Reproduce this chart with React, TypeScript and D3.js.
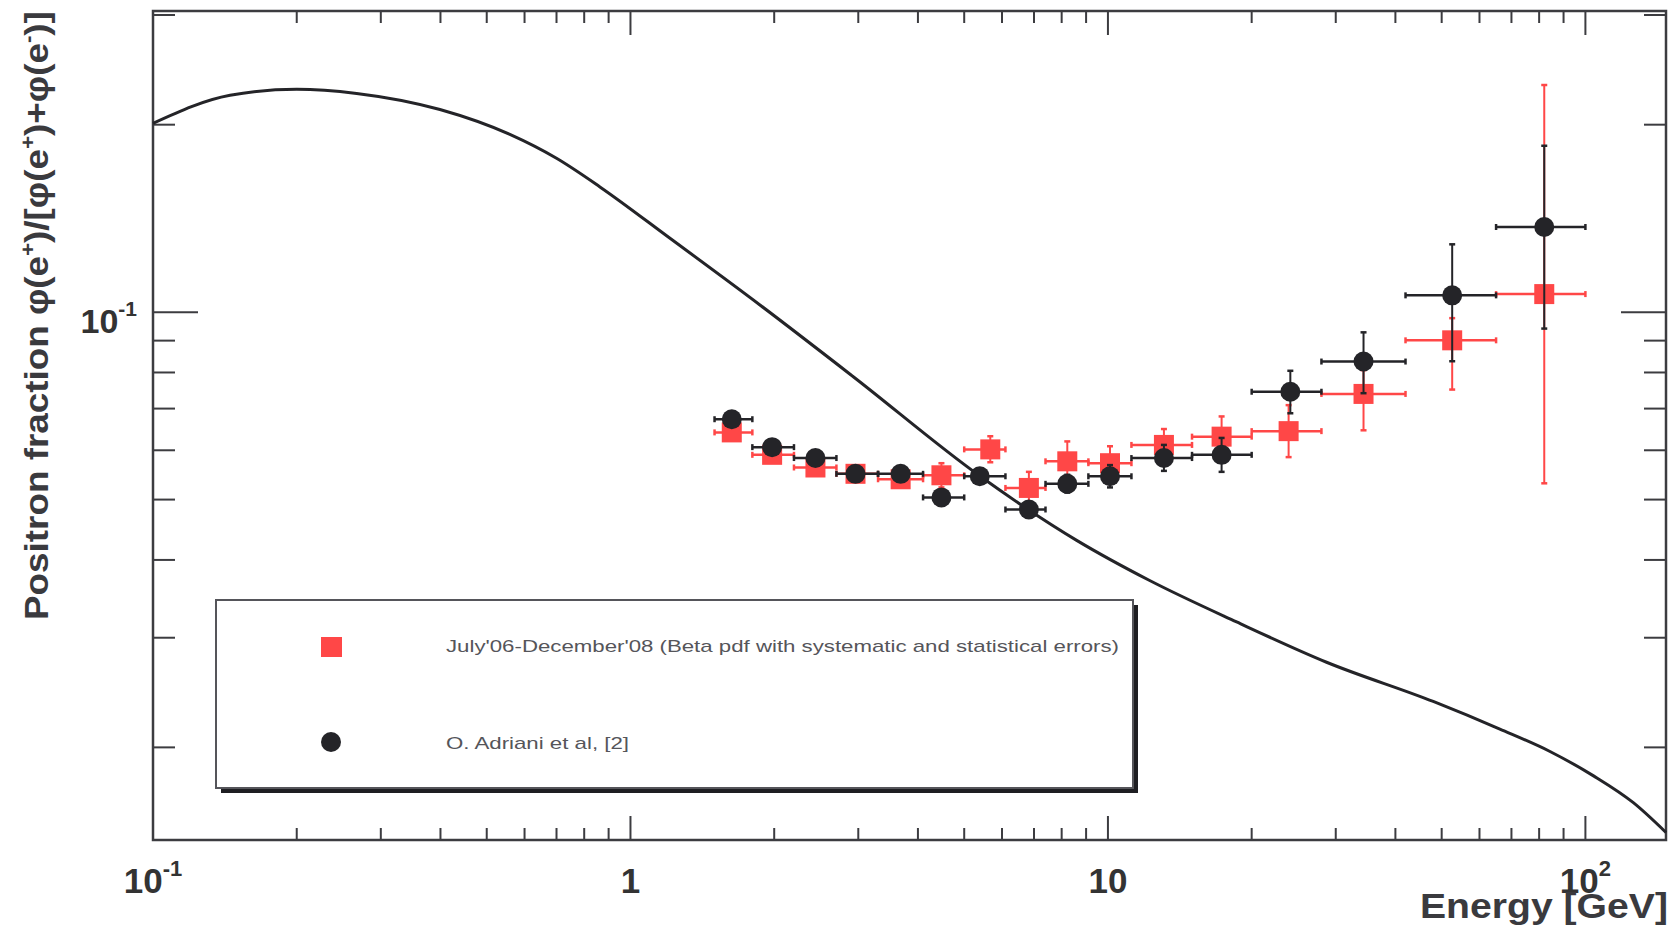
import React, { useEffect, useRef } from 'react';
import * as d3 from 'd3';

// energy bins [GeV], shared by both data sets
const binLow = [1.5, 1.8, 2.2, 2.7, 3.3, 4.1, 5.0, 6.1, 7.4, 9.1, 11.2, 15, 20, 28, 42, 65];
const binHigh = [1.8, 2.2, 2.7, 3.3, 4.1, 5.0, 6.1, 7.4, 9.1, 11.2, 15, 20, 28, 42, 65, 100];

// July'06-December'08 (red squares)
const energyRed = [1.63, 1.98, 2.44, 2.96, 3.68, 4.48, 5.67, 6.83, 8.22, 10.1, 13.1, 17.3, 23.9, 34.3, 52.6, 82.0];
const fracRed = [0.0641, 0.059, 0.0563, 0.055, 0.0539, 0.0547, 0.0602, 0.0522, 0.0576, 0.0572, 0.0612, 0.0631, 0.0644, 0.0739, 0.0901, 0.1069];
const lowRed = [0.0629, 0.0579, 0.0553, 0.054, 0.0529, 0.0523, 0.0574, 0.0492, 0.0535, 0.0537, 0.0577, 0.0586, 0.0585, 0.0646, 0.0751, 0.0531];
const highRed = [0.0653, 0.0601, 0.0574, 0.056, 0.0549, 0.0572, 0.0632, 0.0554, 0.062, 0.0609, 0.0649, 0.068, 0.0709, 0.0807, 0.0978, 0.2316];

// O. Adriani et al (black circles)
const energyBlack = [1.63, 1.98, 2.44, 2.96, 3.68, 4.48, 5.39, 6.83, 8.22, 10.1, 13.1, 17.3, 24.1, 34.3, 52.6, 82.0];
const fracBlack = [0.0673, 0.0607, 0.0583, 0.055, 0.055, 0.0504, 0.0545, 0.0482, 0.053, 0.0545, 0.0583, 0.059, 0.0745, 0.0833, 0.1064, 0.137];
const lowBlack = [0.0661, 0.0596, 0.0572, 0.054, 0.054, 0.0493, 0.0533, 0.047, 0.0513, 0.0523, 0.0556, 0.0554, 0.0688, 0.0741, 0.0834, 0.0941];
const highBlack = [0.0686, 0.0618, 0.0594, 0.056, 0.056, 0.0515, 0.0557, 0.0495, 0.0548, 0.0568, 0.0612, 0.0628, 0.0805, 0.0928, 0.1285, 0.185];

// secondary production curve
const curveEnergy = [0.1, 0.145, 0.2, 0.267, 0.399, 0.559, 0.7, 0.863, 1.21, 1.87, 2.92, 5.4, 8.6, 12.2, 18.6, 28.7, 48.0, 66.2, 84.3, 104, 126, 147.5];
const curveFrac = [0.201, 0.223, 0.228, 0.2245, 0.2115, 0.1929, 0.1766, 0.1589, 0.1314, 0.1026, 0.0789, 0.0545, 0.043, 0.0371, 0.0318, 0.0274, 0.0237, 0.0214, 0.0197, 0.018, 0.0163, 0.0146];

const legendLabels = ["July'06-December'08 (Beta pdf with systematic and statistical errors)", 'O. Adriani et al, [2]'];

const RED = '#ff4747';
const DARK = '#242428';
const AXIS = '#3c3c40';

const PositronChart = () => {
  const ref = useRef<SVGSVGElement>(null);

  useEffect(() => {
    if (!ref.current) return;
    const svg = d3.select(ref.current);
    svg.selectAll('*').remove();

    const x = d3.scaleLog().domain([0.1, 147.5]).range([153, 1666]);
    const y = d3.scaleLog().domain([0.0142, 0.3045]).range([840, 11]);
    const [x0, x1] = x.range();
    const [y0, y1] = y.range();

    // frame
    svg
      .append('rect')
      .attr('x', x0)
      .attr('y', y1)
      .attr('width', x1 - x0)
      .attr('height', y0 - y1)
      .attr('fill', 'none')
      .attr('stroke', AXIS)
      .attr('stroke-width', 2.5);

    const isMajor = (t: number) => Math.abs(Math.log10(t) - Math.round(Math.log10(t))) < 1e-6;

    const ticks = svg.append('g').attr('stroke', AXIS).attr('stroke-width', 2);
    x.ticks().forEach((t) => {
      const len = isMajor(t) ? 24 : 12;
      ticks.append('line').attr('x1', x(t)).attr('x2', x(t)).attr('y1', y0).attr('y2', y0 - len);
      ticks.append('line').attr('x1', x(t)).attr('x2', x(t)).attr('y1', y1).attr('y2', y1 + len);
    });
    y.ticks().forEach((t) => {
      const len = isMajor(t) ? 45 : 22;
      ticks.append('line').attr('x1', x0).attr('x2', x0 + len).attr('y1', y(t)).attr('y2', y(t));
      ticks.append('line').attr('x1', x1).attr('x2', x1 - len).attr('y1', y(t)).attr('y2', y(t));
    });

    // tick labels
    const font = "'Liberation Sans', Arial, Helvetica, sans-serif";
    const xLabels: [number, string, string][] = [
      [0.1, '10', '-1'],
      [1, '1', ''],
      [10, '10', ''],
      [100, '10', '2'],
    ];
    xLabels.forEach(([v, base, exp]) => {
      const t = svg
        .append('text')
        .attr('x', x(v))
        .attr('y', 893)
        .attr('text-anchor', 'middle')
        .attr('font-family', font)
        .attr('font-weight', 'bold')
        .attr('font-size', 35)
        .attr('fill', '#333');
      t.append('tspan').text(base);
      if (exp) t.append('tspan').attr('dy', -17).attr('font-size', 22).text(exp);
    });

    const yl = svg
      .append('text')
      .attr('x', 137)
      .attr('y', y(0.1) + 21)
      .attr('text-anchor', 'end')
      .attr('font-family', font)
      .attr('font-weight', 'bold')
      .attr('font-size', 34)
      .attr('fill', '#333');
    yl.append('tspan').text('10');
    yl.append('tspan').attr('dy', -17).attr('font-size', 21).text('-1');

    // axis titles
    svg
      .append('text')
      .attr('x', 1668)
      .attr('y', 918)
      .attr('text-anchor', 'end')
      .attr('font-family', font)
      .attr('font-weight', 'bold')
      .attr('font-size', 35)
      .attr('fill', '#3a3a3e')
      .attr('textLength', 248)
      .attr('lengthAdjust', 'spacingAndGlyphs')
      .text('Energy [GeV]');

    const yt = svg
      .append('text')
      .attr('font-family', font)
      .attr('font-weight', 'bold')
      .attr('font-size', 33)
      .attr('fill', '#3a3a3e');
    const parts: [string, number][] = [
      ['Positron fraction \u03c6(e', 0],
      ['+', -13],
      [')/[\u03c6(e', 13],
      ['+', -13],
      [')+\u03c6(e', 13],
      ['-', -13],
      [')]', 13],
    ];
    parts.forEach(([s, dy]) => {
      yt.append('tspan')
        .attr('dy', dy)
        .attr('font-size', dy < 0 ? 20 : 33)
        .text(s);
    });
    const titleLen = (yt.node() as SVGTextElement).getComputedTextLength() || 609;
    yt.attr('transform', `translate(48,620) rotate(-90) scale(${609 / titleLen},1)`);

    // curve
    const line = d3
      .line<number>()
      .x((d, i) => x(curveEnergy[i]))
      .y((d) => y(d))
      .curve(d3.curveMonotoneX);
    svg
      .append('path')
      .datum(curveFrac)
      .attr('fill', 'none')
      .attr('stroke', DARK)
      .attr('stroke-width', 3)
      .attr('d', line);

    // data points with error bars
    const drawSeries = (
      energy: number[],
      frac: number[],
      low: number[],
      high: number[],
      color: string,
      marker: 'square' | 'circle'
    ) => {
      const g = svg.append('g');
      const bars = g.append('g').attr('stroke', color).attr('stroke-width', 2.5);
      frac.forEach((v, i) => {
        const cx = x(energy[i]);
        const cy = y(v);
        const xa = x(binLow[i]);
        const xb = x(binHigh[i]);
        bars.append('line').attr('x1', xa).attr('x2', xb).attr('y1', cy).attr('y2', cy);
        bars.append('line').attr('x1', xa).attr('x2', xa).attr('y1', cy - 3).attr('y2', cy + 3);
        bars.append('line').attr('x1', xb).attr('x2', xb).attr('y1', cy - 3).attr('y2', cy + 3);
        const ya = y(low[i]);
        const yb = y(high[i]);
        bars.append('line').attr('x1', cx).attr('x2', cx).attr('y1', ya).attr('y2', yb).attr('stroke-width', 2);
        bars.append('line').attr('x1', cx - 3).attr('x2', cx + 3).attr('y1', ya).attr('y2', ya);
        bars.append('line').attr('x1', cx - 3).attr('x2', cx + 3).attr('y1', yb).attr('y2', yb);
      });
      frac.forEach((v, i) => {
        const cx = x(energy[i]);
        const cy = y(v);
        if (marker === 'square') {
          g.append('rect').attr('x', cx - 10).attr('y', cy - 10).attr('width', 20).attr('height', 20).attr('fill', color);
        } else {
          g.append('circle').attr('cx', cx).attr('cy', cy).attr('r', 10).attr('fill', color);
        }
      });
    };
    drawSeries(energyRed, fracRed, lowRed, highRed, RED, 'square');
    drawSeries(energyBlack, fracBlack, lowBlack, highBlack, DARK, 'circle');

    // legend
    const lg = svg.append('g');
    lg.append('rect').attr('x', 221).attr('y', 605).attr('width', 917).attr('height', 188).attr('fill', '#1e1e22');
    lg.append('rect')
      .attr('x', 216)
      .attr('y', 600)
      .attr('width', 917)
      .attr('height', 188)
      .attr('fill', '#fff')
      .attr('stroke', '#55555a')
      .attr('stroke-width', 2);
    lg.append('rect').attr('x', 321).attr('y', 637).attr('width', 21).attr('height', 20).attr('fill', RED);
    lg.append('circle').attr('cx', 331).attr('cy', 742).attr('r', 10).attr('fill', DARK);
    lg.append('text')
      .attr('x', 446)
      .attr('y', 652)
      .attr('font-family', font)
      .attr('font-size', 17)
      .attr('fill', '#55555a')
      .attr('textLength', 673)
      .attr('lengthAdjust', 'spacingAndGlyphs')
      .text(legendLabels[0]);
    lg.append('text')
      .attr('x', 446)
      .attr('y', 749)
      .attr('font-family', font)
      .attr('font-size', 17)
      .attr('fill', '#55555a')
      .attr('textLength', 183)
      .attr('lengthAdjust', 'spacingAndGlyphs')
      .text(legendLabels[1]);
  }, []);

  return <svg ref={ref} width={1677} height={929} style={{ position: 'absolute', left: 0, top: 0, background: '#fff', display: 'block' }} />;
};

export default function App() {
  return <PositronChart />;
}
